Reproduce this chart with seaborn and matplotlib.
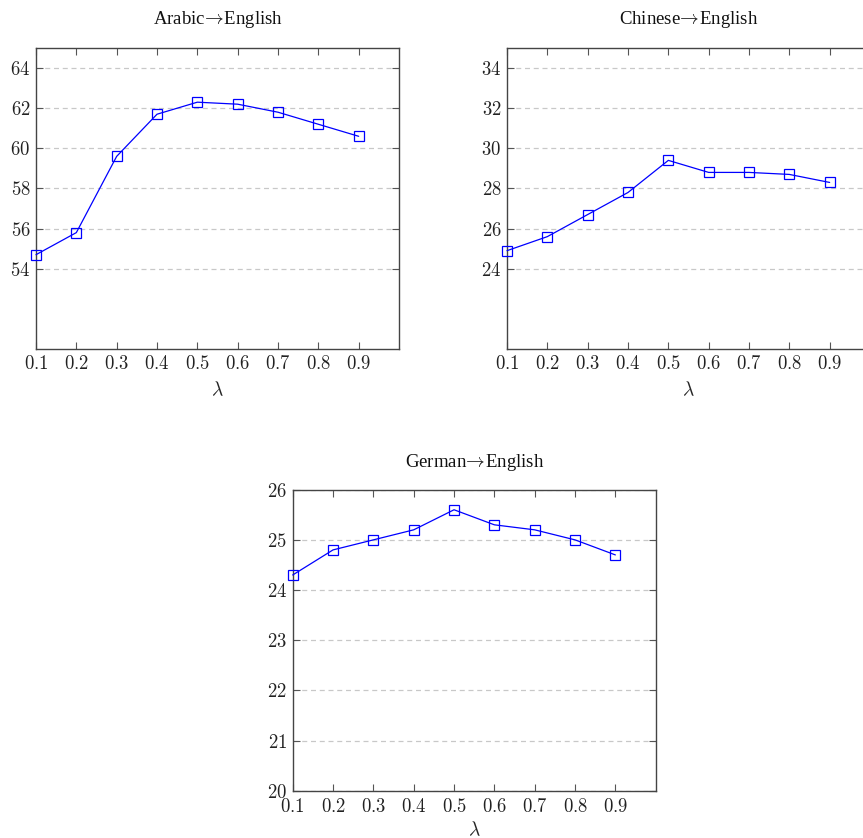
import matplotlib
matplotlib.use("Agg")
import matplotlib.pyplot as plt
import seaborn as sns
import pandas as pd
from matplotlib.ticker import FuncFormatter, FixedLocator

sns.set_style("ticks")
plt.rcParams["font.family"] = ["Liberation Serif", "DejaVu Serif"]
plt.rcParams["mathtext.fontset"] = "cm"

lambdas = [0.1, 0.2, 0.3, 0.4, 0.5, 0.6, 0.7, 0.8, 0.9]
arabic = [54.7, 55.8, 59.6, 61.7, 62.3, 62.2, 61.8, 61.2, 60.6]
chinese = [24.9, 25.6, 26.7, 27.8, 29.4, 28.8, 28.8, 28.7, 28.3]
german = [24.3, 24.8, 25.0, 25.2, 25.6, 25.3, 25.2, 25.0, 24.7]

titles = [r"Arabic$\!\rightarrow\!$English", r"Chinese$\!\rightarrow\!$English",
          r"German$\!\rightarrow\!$English"]
ylims = [(50, 65), (20, 35), (20, 26)]
yticks = [[54, 56, 58, 60, 62, 64], [24, 26, 28, 30, 32, 34], [20, 21, 22, 23, 24, 25, 26]]
series = [arabic, chinese, german]

W, H = 863, 838
fig = plt.figure(figsize=(W / 100, H / 100), dpi=100)

# axes boxes in pixels: left, top, right, bottom
boxes = [(36, 48, 399, 349), (507, 48, 870, 349), (292.7, 489.7, 655.7, 790.7)]
title_y = [20, 20, 462.7]
xlabel_pad = [6, 6, 3]
xtick_pad = [4, 4, 5.5]

fmt = FuncFormatter(lambda v, p: r"$%g$" % v)

for i in range(3):
    l, t, r, b = boxes[i]
    ax = fig.add_axes([l / W, 1 - b / H, (r - l) / W, (b - t) / H])
    df = pd.DataFrame({"lam": lambdas, "val": series[i]})
    sns.lineplot(data=df, x="lam", y="val", ax=ax, color="#0000ff", linewidth=0.9,
                 marker="s", markersize=6.5, markerfacecolor="none",
                 markeredgecolor="#0000ff", markeredgewidth=0.9, clip_on=False,
                 zorder=5)
    ax.set_xlim(0.1, 1.0)
    ax.set_ylim(*ylims[i])
    ax.xaxis.set_major_locator(FixedLocator(lambdas))
    ax.yaxis.set_major_locator(FixedLocator(yticks[i]))
    ax.xaxis.set_major_formatter(fmt)
    ax.yaxis.set_major_formatter(fmt)
    ax.tick_params(direction="in", top=True, right=True, length=5, width=0.8,
                   colors="#555555", labelcolor="#222222", labelsize=13.5, pad=4)
    ax.tick_params(axis="x", pad=xtick_pad[i])
    ax.grid(axis="y", linestyle=(0, (4, 3)), color="#c8c8c8", linewidth=0.9)
    ax.set_axisbelow(True)
    for s in ax.spines.values():
        s.set_color("#444444")
        s.set_linewidth(1.0)
    ax.set_xlabel(r"$\lambda$", fontsize=14, labelpad=xlabel_pad[i])
    ax.set_ylabel("")
    cx = (l + r) / 2
    fig.text(cx / W, 1 - title_y[i] / H, titles[i], ha="center", va="center",
             fontsize=13.5, color="#111111")

fig.savefig("out.png", dpi=100)
